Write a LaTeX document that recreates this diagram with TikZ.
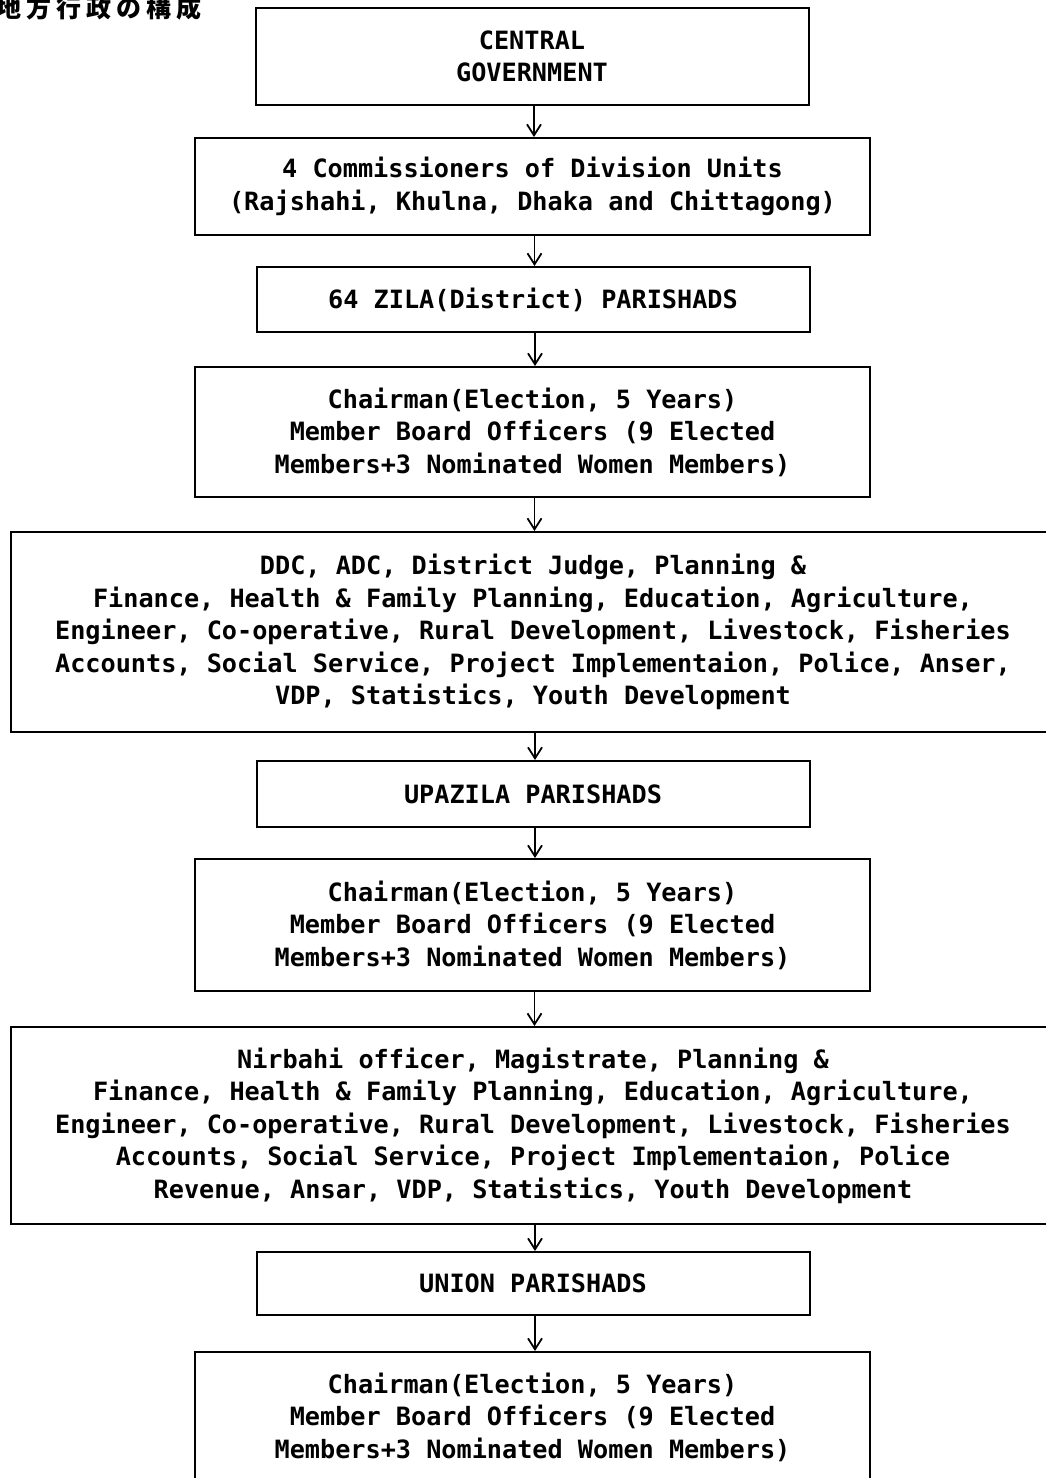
\documentclass[tikz,border=0pt]{standalone}
\usepackage{fontspec}
\usetikzlibrary{arrows.meta}
\newfontfamily\monofnt{DejaVu Sans Mono}
\newfontfamily\jpfnt{Noto Sans CJK JP}
\newcommand{\jc}[1]{\makebox[30pt][l]{#1}}
\tikzset{
  box/.style={draw=black, line width=2pt, inner sep=0pt, align=center,
    font=\monofnt\bfseries\fontsize{25.2}{32.5}\selectfont},
  narrowbox/.style={box, minimum width=553pt},
  midbox/.style={box, minimum width=675pt},
  widebox/.style={box, minimum width=1044pt},
  arr/.style={line width=1.8pt, -{Straight Barb[length=11pt,width=14pt,line width=1.8pt]}}
}
\begin{document}
\begin{tikzpicture}[x=1pt,y=-1pt]
\useasboundingbox (0,0) rectangle (1046,1478);
\node[font=\jpfnt\bfseries\fontsize{25}{25}\selectfont, inner sep=0pt, anchor=base west] (title) at (-4,17)
  {\jc{地}\jc{方}\jc{行}\jc{政}\jc{の}\jc{構}\jc{成}};

\node[narrowbox, minimum height=97pt] (b1) at (532,56.5) {CENTRAL\\GOVERNMENT};
\node[midbox, minimum height=97pt] (b2) at (532.5,186.5) {4 Commissioners of Division Units\\(Rajshahi, Khulna, Dhaka and Chittagong)};
\node[narrowbox, minimum height=65pt] (b3) at (533,299.5) {64 ZILA(District) PARISHADS};
\node[midbox, minimum height=130pt] (b4) at (532.5,432) {Chairman(Election, 5 Years)\\Member Board Officers (9 Elected\\Members+3 Nominated Women Members)};
\node[widebox, minimum height=200pt] (b5) at (533,632) {DDC, ADC, District Judge, Planning \&\\Finance, Health \& Family Planning, Education, Agriculture,\\Engineer, Co-operative, Rural Development, Livestock, Fisheries\\Accounts, Social Service, Project Implementaion, Police, Anser,\\VDP, Statistics, Youth Development};
\node[narrowbox, minimum height=66pt] (b6) at (533,794) {UPAZILA PARISHADS};
\node[midbox, minimum height=132pt] (b7) at (532.5,925) {Chairman(Election, 5 Years)\\Member Board Officers (9 Elected\\Members+3 Nominated Women Members)};
\node[widebox, minimum height=197pt] (b8) at (533,1125.5) {Nirbahi officer, Magistrate, Planning \&\\Finance, Health \& Family Planning, Education, Agriculture,\\Engineer, Co-operative, Rural Development, Livestock, Fisheries\\Accounts, Social Service, Project Implementaion, Police\\Revenue, Ansar, VDP, Statistics, Youth Development};
\node[narrowbox, minimum height=63pt] (b9) at (533,1283.5) {UNION PARISHADS};
\node[midbox, minimum height=130pt] (b10) at (532.5,1417) {Chairman(Election, 5 Years)\\Member Board Officers (9 Elected\\Members+3 Nominated Women Members)};

\foreach \a/\b in {b1/b2,b2/b3,b3/b4,b4/b5,b5/b6,b6/b7,b7/b8,b8/b9,b9/b10}{
  \draw[arr] ([xshift=2pt]\a.south) -- ([xshift=2pt]\a.south |- \b.north);
}
\end{tikzpicture}
\end{document}
